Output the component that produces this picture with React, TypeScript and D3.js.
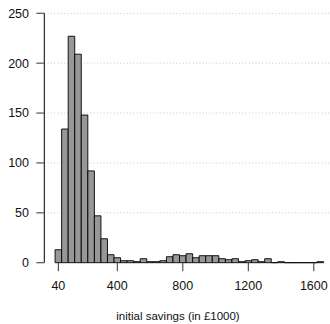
import React from 'react';
import { scaleLinear } from 'd3';

// histogram bins (lower edge, in £1000) and counts
const binStarts = [
  20, 60, 100, 140, 180, 220, 260, 300, 340, 380,
  420, 460, 500, 540, 580, 620, 660, 700, 740, 780,
  820, 860, 900, 940, 980, 1020, 1060, 1100, 1140, 1180,
  1220, 1260, 1300, 1340, 1380, 1420, 1460, 1500, 1540, 1580,
  1620,
];
const counts = [
  13, 134, 227, 209, 148, 92, 47, 24, 8, 5,
  2, 2, 1, 4, 1, 1, 2, 6, 8, 7,
  9, 5, 7, 7, 7, 4, 3, 4, 1, 2,
  3, 1, 4, 0, 1, 0, 0, 0, 0, 0,
  1,
];
const binWidth = 40;

const xTicks = [40, 400, 800, 1200, 1600];
const yTicks = [0, 50, 100, 150, 200, 250];
const xLabel = 'initial savings (in £1000)';

const width = 330;
const height = 324;
const font = 'Liberation Sans, Arial, Helvetica, sans-serif';

const App = () => {
  const x = scaleLinear().domain([0, 1600]).range([51.8, 313.8]);
  const y = scaleLinear().domain([0, 250]).range([262.7, 13.3]);
  const axisX = 44.3;

  return (
    <div style={{ position: 'absolute', left: 0, top: 0 }}>
      <svg width={width} height={height} style={{ display: 'block' }}>
        <rect width={width} height={height} fill="#fff" />
        {yTicks.filter(t => t > 0).map(t => (
          <line
            key={'g' + t}
            x1={axisX}
            x2={width}
            y1={y(t)}
            y2={y(t)}
            stroke="#c8c8c8"
            strokeWidth={1}
            strokeDasharray="1 2.3"
          />
        ))}
        {binStarts.map((b, i) => {
          const x0 = x(b);
          const x1 = x(b + binWidth);
          const y0 = y(0);
          const y1 = y(counts[i]);
          // path, so that empty bins still show as a flat line
          return (
            <path
              key={b}
              d={`M${x0},${y0}V${y1}H${x1}V${y0}Z`}
              fill="#979797"
              stroke="#000"
              strokeWidth={0.9}
            />
          );
        })}
        <line x1={axisX} x2={axisX} y1={y(0)} y2={y(250)} stroke="#000" strokeWidth={1} />
        {yTicks.map(t => (
          <g key={'y' + t}>
            <line x1={axisX - 8} x2={axisX} y1={y(t)} y2={y(t)} stroke="#555" strokeWidth={1.2} />
            <text x={29} y={y(t)} dy="0.35em" textAnchor="end" fontFamily={font} fontSize={12.5} fill="#111">
              {t}
            </text>
          </g>
        ))}
        {xTicks.map(t => (
          <g key={'x' + t}>
            <line x1={x(t)} x2={x(t)} y1={y(0)} y2={y(0) + 8.5} stroke="#333" strokeWidth={1} />
            <text x={x(t)} y={290} textAnchor="middle" fontFamily={font} fontSize={12.5} fill="#111">
              {t}
            </text>
          </g>
        ))}
        <text x={178} y={320} textAnchor="middle" fontFamily={font} fontSize={11.5} fill="#111">
          {xLabel}
        </text>
      </svg>
    </div>
  );
};

export default App;
